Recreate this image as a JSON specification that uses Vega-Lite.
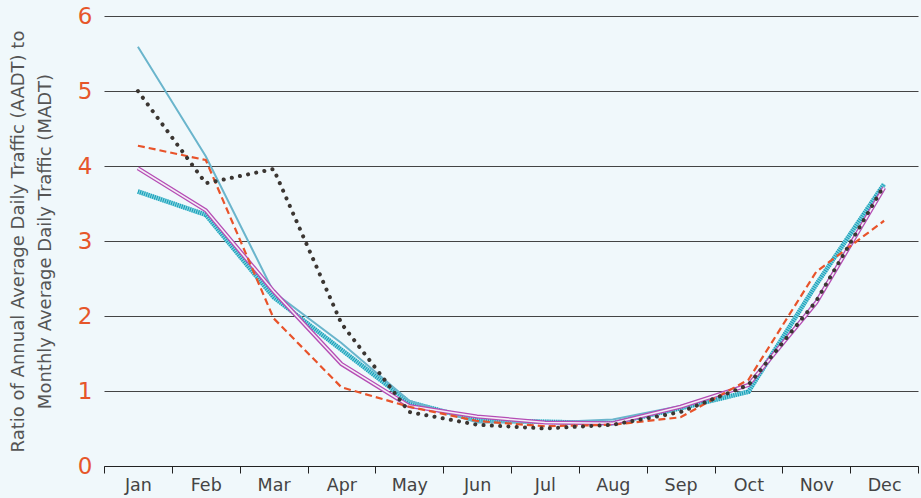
{
  "$schema": "https://vega.github.io/schema/vega-lite/v6.json",
  "width": 814,
  "height": 450,
  "autosize": {"type": "none"},
  "padding": {"left": 104, "top": 16, "right": 3, "bottom": 32},
  "background": "#f0f8fb",
  "config": {"view": {"stroke": null}, "font": "DejaVu Sans"},
  "data": {"values": [
    {"m":"Jan","s":"A","v":5.59},{"m":"Feb","s":"A","v":4.13},{"m":"Mar","s":"A","v":2.32},{"m":"Apr","s":"A","v":1.64},{"m":"May","s":"A","v":0.87},{"m":"Jun","s":"A","v":0.58},{"m":"Jul","s":"A","v":0.58},{"m":"Aug","s":"A","v":0.62},{"m":"Sep","s":"A","v":0.8},{"m":"Oct","s":"A","v":1.08},{"m":"Nov","s":"A","v":2.2},{"m":"Dec","s":"A","v":3.73},
    {"m":"Jan","s":"B","v":5.0},{"m":"Feb","s":"B","v":3.77},{"m":"Mar","s":"B","v":3.96},{"m":"Apr","s":"B","v":1.9},{"m":"May","s":"B","v":0.72},{"m":"Jun","s":"B","v":0.55},{"m":"Jul","s":"B","v":0.5},{"m":"Aug","s":"B","v":0.55},{"m":"Sep","s":"B","v":0.72},{"m":"Oct","s":"B","v":1.08},{"m":"Nov","s":"B","v":2.2},{"m":"Dec","s":"B","v":3.74},
    {"m":"Jan","s":"C","v":4.27},{"m":"Feb","s":"C","v":4.08},{"m":"Mar","s":"C","v":1.97},{"m":"Apr","s":"C","v":1.05},{"m":"May","s":"C","v":0.79},{"m":"Jun","s":"C","v":0.6},{"m":"Jul","s":"C","v":0.53},{"m":"Aug","s":"C","v":0.55},{"m":"Sep","s":"C","v":0.65},{"m":"Oct","s":"C","v":1.15},{"m":"Nov","s":"C","v":2.59},{"m":"Dec","s":"C","v":3.27},
    {"m":"Jan","s":"D","v":3.97},{"m":"Feb","s":"D","v":3.41},{"m":"Mar","s":"D","v":2.33},{"m":"Apr","s":"D","v":1.36},{"m":"May","s":"D","v":0.8},{"m":"Jun","s":"D","v":0.66},{"m":"Jul","s":"D","v":0.58},{"m":"Aug","s":"D","v":0.57},{"m":"Sep","s":"D","v":0.79},{"m":"Oct","s":"D","v":1.08},{"m":"Nov","s":"D","v":2.18},{"m":"Dec","s":"D","v":3.71},
    {"m":"Jan","s":"E","v":3.66},{"m":"Feb","s":"E","v":3.35},{"m":"Mar","s":"E","v":2.25},{"m":"Apr","s":"E","v":1.55},{"m":"May","s":"E","v":0.85},{"m":"Jun","s":"E","v":0.61},{"m":"Jul","s":"E","v":0.59},{"m":"Aug","s":"E","v":0.57},{"m":"Sep","s":"E","v":0.77},{"m":"Oct","s":"E","v":0.99},{"m":"Nov","s":"E","v":2.42},{"m":"Dec","s":"E","v":3.76}
  ]},
  "encoding": {
    "x": {
      "field": "m", "type": "ordinal",
      "sort": ["Jan","Feb","Mar","Apr","May","Jun","Jul","Aug","Sep","Oct","Nov","Dec"],
      "bandPosition": 0.5,
      "scale": {"type": "band", "paddingInner": 0, "paddingOuter": 0},
      "axis": {
        "title": null, "labelAngle": 0, "tickBand": "extent",
        "domainColor": "#222", "tickColor": "#222", "tickSize": 7, "domainWidth": 1.2,
        "labelFontSize": 17.5, "labelColor": "#444", "labelPadding": 3, "grid": false
      }
    },
    "y": {
      "field": "v", "type": "quantitative",
      "scale": {"domain": [0, 6], "nice": false, "zero": true},
      "axis": {
        "values": [0,1,2,3,4,5,6], "format": "d",
        "title": ["Ratio of Annual Average Daily Traffic (AADT) to", "Monthly Average Daily Traffic (MADT)"],
        "titleFontSize": 18, "titleColor": "#555", "titleFontWeight": "normal", "titlePadding": 23, "titleLineHeight": 27,
        "labelFontSize": 23, "labelColor": "#e6562a", "labelPadding": 12,
        "tickSize": 0, "domain": false,
        "grid": true, "gridColor": "#444", "gridWidth": 1
      }
    }
  },
  "layer": [
    {"transform": [{"filter": "datum.s == 'E'"}], "mark": {"type": "line", "stroke": "#86d2df", "strokeWidth": 4.5}},
    {"transform": [{"filter": "datum.s == 'E'"}], "mark": {"type": "line", "stroke": "#139fb8", "strokeWidth": 4.5, "strokeDash": [1, 1.2]}},
    {"transform": [{"filter": "datum.s == 'A'"}], "mark": {"type": "line", "stroke": "#6ab5cc", "strokeWidth": 2}},
    {"transform": [{"filter": "datum.s == 'D'"}], "mark": {"type": "line", "stroke": "#b54db5", "strokeWidth": 4.2}},
    {"transform": [{"filter": "datum.s == 'D'"}], "mark": {"type": "line", "stroke": "#f3eef6", "strokeWidth": 1.6}},
    {"transform": [{"filter": "datum.s == 'C'"}], "mark": {"type": "line", "stroke": "#e8532a", "strokeWidth": 2.2, "strokeDash": [7, 4]}},
    {"transform": [{"filter": "datum.s == 'B'"}], "mark": {"type": "line", "stroke": "#3b3632", "strokeWidth": 4, "strokeCap": "round", "strokeDash": [0.1, 8.2]}}
  ]
}
